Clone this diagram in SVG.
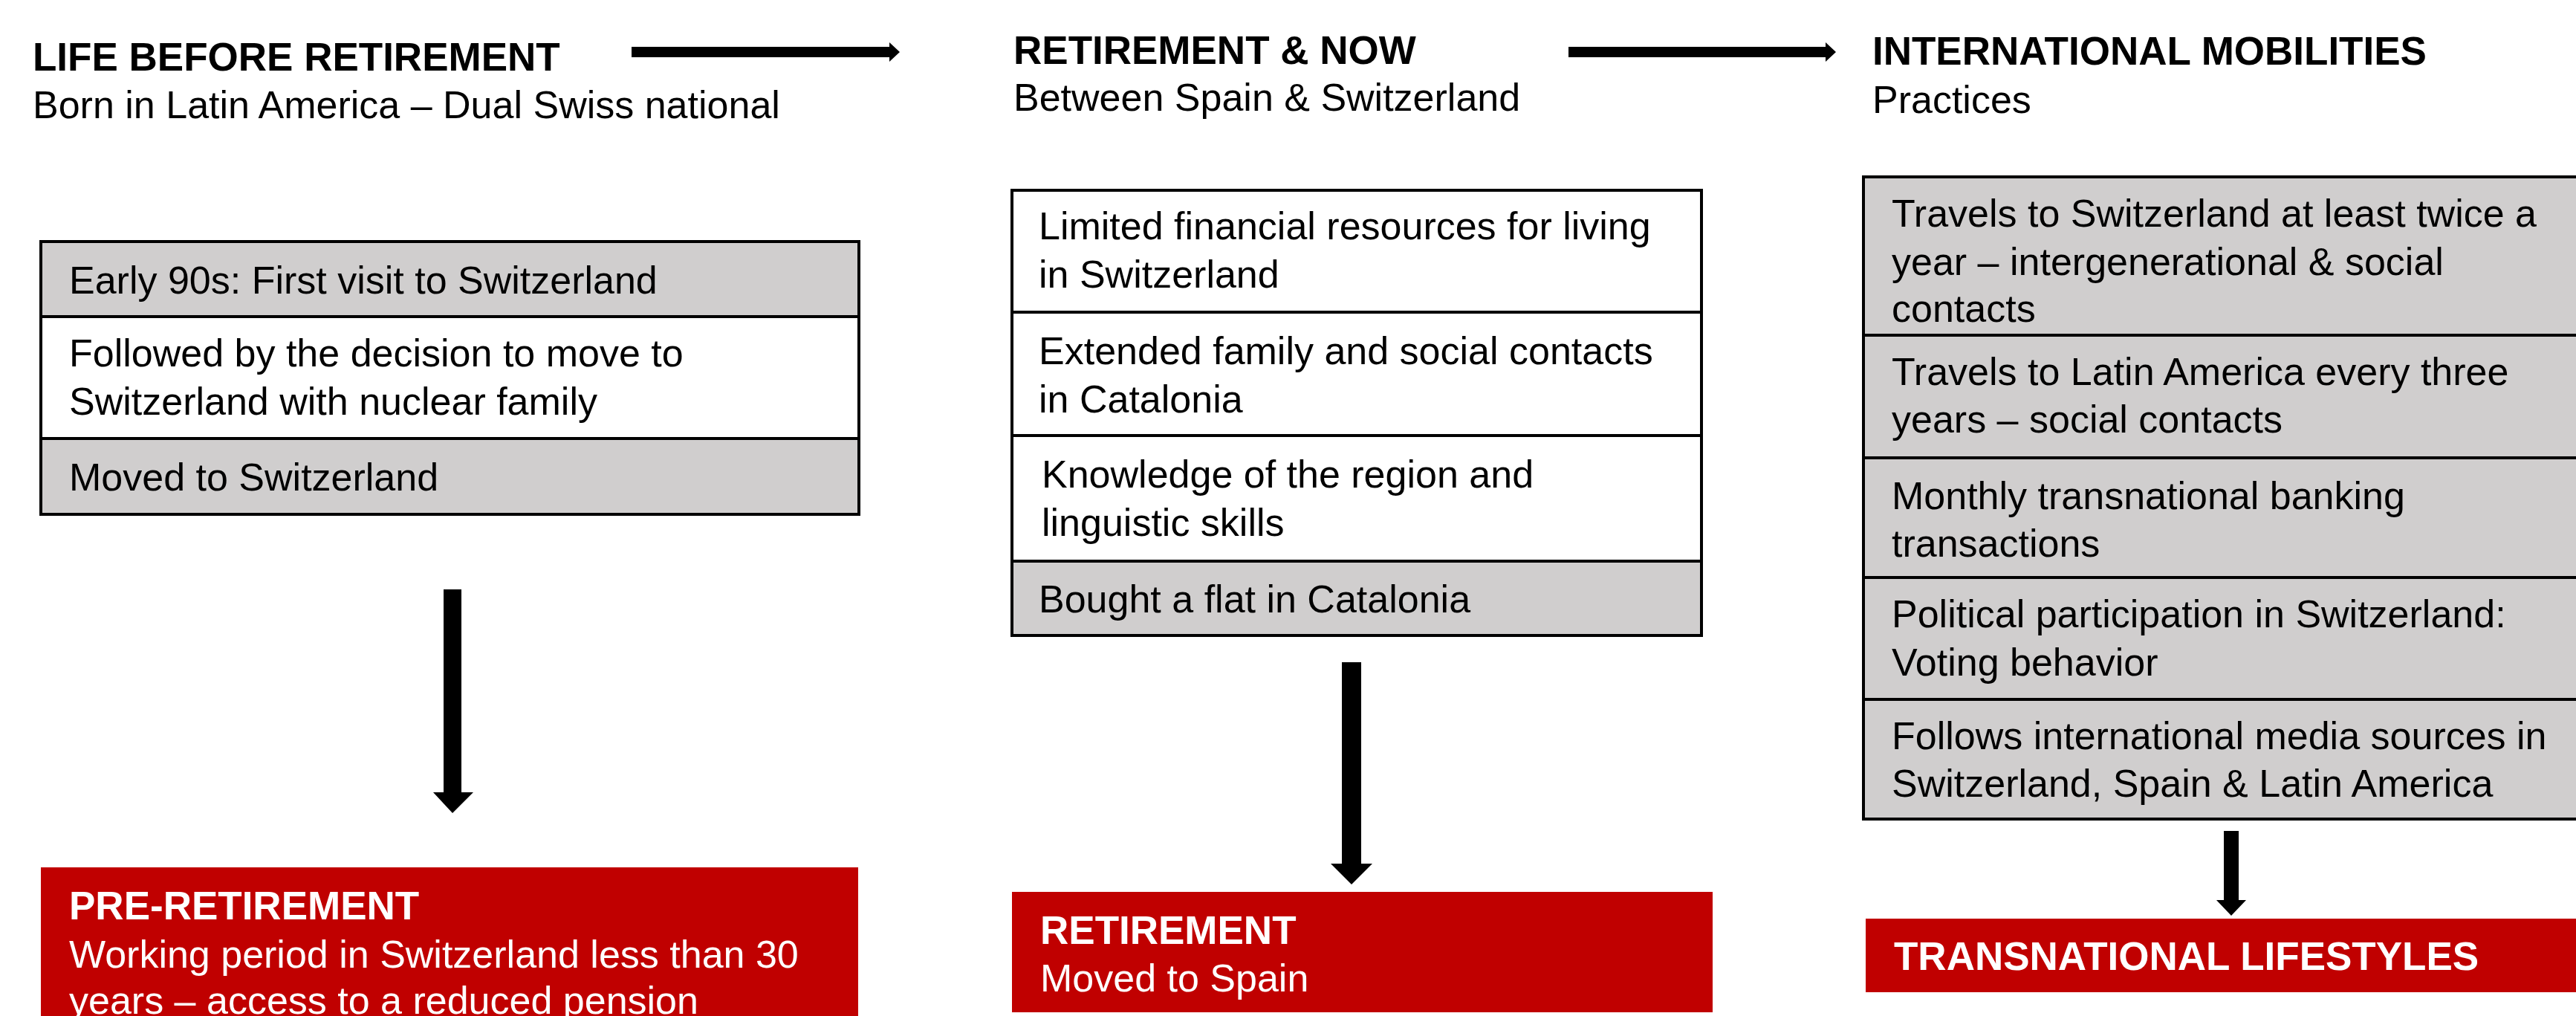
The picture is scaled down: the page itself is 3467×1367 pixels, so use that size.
<svg xmlns="http://www.w3.org/2000/svg" width="3467" height="1367" viewBox="0 0 3467 1367">
<style>
text{font-family:"Liberation Sans",Arial,sans-serif;font-size:52px;fill:#000}
.h{font-weight:bold;font-size:53px}
.w{fill:#fff}
.g{fill:#D0CECE;stroke:#000;stroke-width:4}
.c{fill:#fff;stroke:#000;stroke-width:4}
.r{fill:#C00000}
.a{fill:#000}
</style>
<rect width="3467" height="1367" fill="#fff"/>
<g id="headers">
<text class="h" x="44" y="95">LIFE BEFORE RETIREMENT</text>
<text x="44" y="159">Born in Latin America – Dual Swiss national</text>
<text class="h" x="1364" y="86">RETIREMENT &amp; NOW</text>
<text x="1364" y="149">Between Spain &amp; Switzerland</text>
<text class="h" x="2520" y="87">INTERNATIONAL MOBILITIES</text>
<text x="2520" y="152">Practices</text>
</g>
<g id="col1">
<rect class="g" x="55" y="325" width="1101" height="101"/>
<rect class="c" x="55" y="426" width="1101" height="164"/>
<rect class="g" x="55" y="590" width="1101" height="102"/>
<text x="93" y="395">Early 90s: First visit to Switzerland</text>
<text x="93" y="493">Followed by the decision to move to</text>
<text x="93" y="558">Switzerland with nuclear family</text>
<text x="93" y="660">Moved to Switzerland</text>
</g>
<g id="col2">
<rect class="c" x="1362" y="256" width="928" height="164"/>
<rect class="c" x="1362" y="420" width="928" height="166"/>
<rect class="c" x="1362" y="586" width="928" height="169"/>
<rect class="g" x="1362" y="755" width="928" height="100"/>
<text x="1398" y="322">Limited financial resources for living</text>
<text x="1398" y="387">in Switzerland</text>
<text x="1398" y="490">Extended family and social contacts</text>
<text x="1398" y="555">in Catalonia</text>
<text x="1402" y="656">Knowledge of the region and</text>
<text x="1402" y="721">linguistic skills</text>
<text x="1398" y="824">Bought a flat in Catalonia</text>
</g>
<g id="col3">
<rect class="g" x="2508" y="238" width="980" height="213"/>
<rect class="g" x="2508" y="451" width="980" height="165"/>
<rect class="g" x="2508" y="616" width="980" height="161"/>
<rect class="g" x="2508" y="777" width="980" height="164"/>
<rect class="g" x="2508" y="941" width="980" height="161"/>
<text x="2546" y="305">Travels to Switzerland at least twice a</text>
<text x="2546" y="370">year – intergenerational &amp; social</text>
<text x="2546" y="433">contacts</text>
<text x="2546" y="518">Travels to Latin America every three</text>
<text x="2546" y="582">years – social contacts</text>
<text x="2546" y="685">Monthly transnational banking</text>
<text x="2546" y="749">transactions</text>
<text x="2546" y="844">Political participation in Switzerland:</text>
<text x="2546" y="909">Voting behavior</text>
<text x="2546" y="1008">Follows international media sources in</text>
<text x="2546" y="1072">Switzerland, Spain &amp; Latin America</text>
</g>
<g id="outcome1">
<rect class="r" x="55" y="1167" width="1100" height="220"/>
<text class="h w" x="93" y="1237">PRE-RETIREMENT</text>
<text class="w" x="93" y="1302">Working period in Switzerland less than 30</text>
<text class="w" x="93" y="1364">years – access to a reduced pension</text>
</g>
<g id="outcome2">
<rect class="r" x="1362" y="1200" width="943" height="162"/>
<text class="h w" x="1400" y="1270">RETIREMENT</text>
<text class="w" x="1400" y="1334">Moved to Spain</text>
</g>
<g id="outcome3">
<rect class="r" x="2511" y="1236" width="980" height="99"/>
<text class="h w" x="2549" y="1305">TRANSNATIONAL LIFESTYLES</text>
</g>
<g id="connectors">
<polygon class="a" points="850,63 1197,63 1197,57 1211,70 1197,83 1197,77 850,77"/>
<polygon class="a" points="2111,63 2457,63 2457,57 2471,70 2457,83 2457,77 2111,77"/>
<polygon class="a" points="597,793 621,793 621,1066 637,1066 609,1094 583,1066 597,1066"/>
<polygon class="a" points="1806,891 1832,891 1832,1162 1847,1162 1819,1190 1791,1162 1806,1162"/>
<polygon class="a" points="2993,1118 3013,1118 3013,1211 3023,1211 3003,1232 2983,1211 2993,1211"/>
</g>
</svg>
